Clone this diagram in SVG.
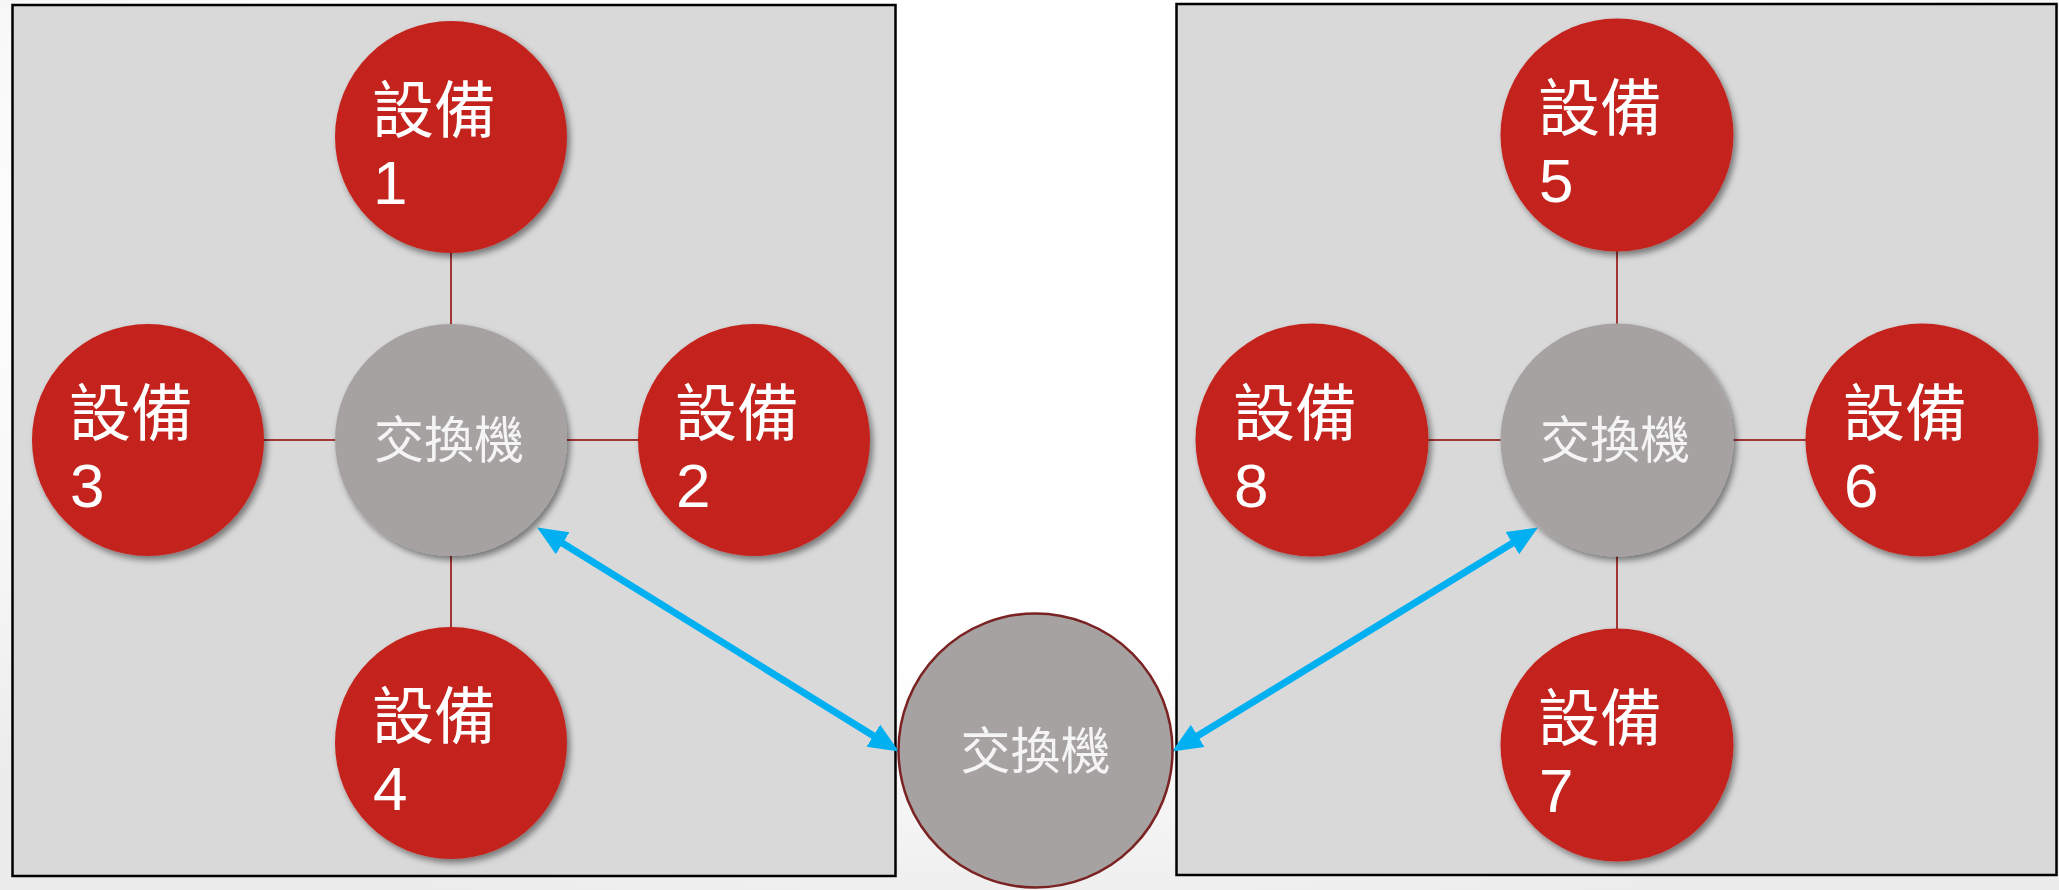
<svg xmlns="http://www.w3.org/2000/svg" width="2059" height="890" viewBox="0 0 2059 890">
<defs>
<radialGradient id="bg" cx="0.5" cy="0.3" r="0.75">
<stop offset="0.6" stop-color="#FFFFFF"/>
<stop offset="1" stop-color="#ECECEC"/>
</radialGradient>
<filter id="sh" x="-20%" y="-20%" width="150%" height="150%">
<feDropShadow dx="3" dy="4" stdDeviation="3" flood-color="#000" flood-opacity="0.45"/>
</filter>
<marker id="ah" markerUnits="userSpaceOnUse" markerWidth="32" markerHeight="28" refX="9" refY="14" orient="auto-start-reverse">
<path d="M0,1 L30,14 L0,27 z" fill="#00B0F0"/>
</marker>
<style>
.box{fill:#D9D9D9;stroke:#000;stroke-width:2.5}
.dev{fill:#C4221B;filter:url(#sh)}
.sw{fill:#A5A2A1;filter:url(#sh)}
.lbl{font-family:"Liberation Sans","Noto Sans CJK TC",sans-serif;font-size:62px;fill:#FFFFFF}
.swl{font-family:"Liberation Sans","Noto Sans CJK TC",sans-serif;font-size:50px;fill:#F4F4F4;text-anchor:middle}
.ln{stroke:#A33535;stroke-width:2;fill:none}
.ar{stroke:#00B0F0;stroke-width:7;fill:none;marker-start:url(#ah);marker-end:url(#ah)}
</style>
</defs>
<rect width="2059" height="890" fill="url(#bg)"/>
<rect id="boxL" class="box" x="12.5" y="5" width="883" height="871"/>
<rect id="boxR" class="box" x="1176.5" y="4" width="880" height="871"/>
<g id="connectors">
<line class="ln" x1="451" y1="250" x2="451" y2="326"/>
<line class="ln" x1="451" y1="555" x2="451" y2="629"/>
<line class="ln" x1="262" y1="440" x2="337" y2="440"/>
<line class="ln" x1="565" y1="440" x2="640" y2="440"/>
<line class="ln" x1="1617" y1="249" x2="1617" y2="325"/>
<line class="ln" x1="1617" y1="555" x2="1617" y2="630"/>
<line class="ln" x1="1426" y1="440" x2="1503" y2="440"/>
<line class="ln" x1="1732" y1="440" x2="1807" y2="440"/>
<path class="ar" d="M555,538.5 L881,740.5"/>
<path class="ar" d="M1190,740.5 L1520,538.5"/>
</g>
<g id="dev1"><circle class="dev" cx="451" cy="137" r="116"/><text class="lbl" x="372" y="133">設備</text><text class="lbl" x="373" y="204">1</text></g>
<g id="dev2"><circle class="dev" cx="754" cy="440" r="116"/><text class="lbl" x="675" y="436">設備</text><text class="lbl" x="676" y="507">2</text></g>
<g id="dev3"><circle class="dev" cx="148" cy="440" r="116"/><text class="lbl" x="69" y="436">設備</text><text class="lbl" x="70" y="507">3</text></g>
<g id="dev4"><circle class="dev" cx="451" cy="743" r="116"/><text class="lbl" x="372" y="739">設備</text><text class="lbl" x="373" y="810">4</text></g>
<g id="swL"><circle class="sw" cx="451" cy="440" r="116"/><text class="swl" x="449" y="458">交換機</text></g>
<g id="dev5"><circle class="dev" cx="1617" cy="135" r="116.5"/><text class="lbl" x="1538" y="131">設備</text><text class="lbl" x="1539" y="202">5</text></g>
<g id="dev6"><circle class="dev" cx="1922" cy="440" r="116.5"/><text class="lbl" x="1843" y="436">設備</text><text class="lbl" x="1844" y="507">6</text></g>
<g id="dev7"><circle class="dev" cx="1617" cy="745" r="116.5"/><text class="lbl" x="1538" y="741">設備</text><text class="lbl" x="1539" y="812">7</text></g>
<g id="dev8"><circle class="dev" cx="1312" cy="440" r="116.5"/><text class="lbl" x="1233" y="436">設備</text><text class="lbl" x="1234" y="507">8</text></g>
<g id="swR"><circle class="sw" cx="1617" cy="440" r="116.5"/><text class="swl" x="1615" y="458">交換機</text></g>
<g id="swM"><circle cx="1035.5" cy="750.5" r="137" fill="#A5A2A1" stroke="#7B2222" stroke-width="2.5"/><text class="swl" x="1035.5" y="769">交換機</text></g>
</svg>
